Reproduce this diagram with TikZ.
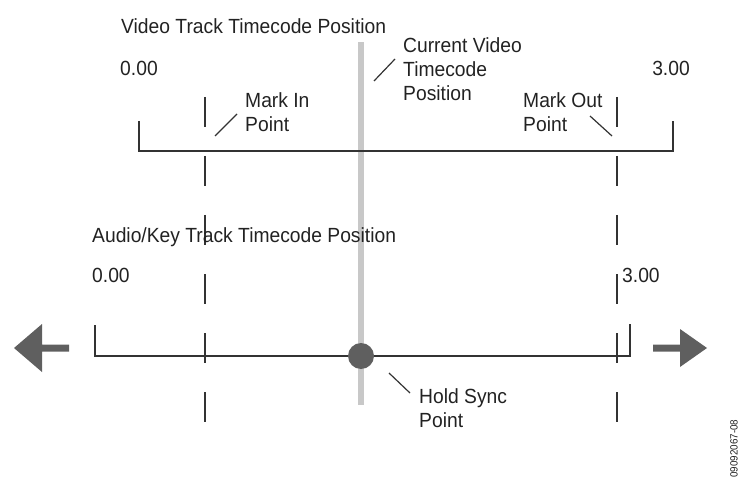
\documentclass[tikz,border=0pt]{standalone}
\usepackage{fontspec}
\setmainfont[FakeStretch=0.94]{Liberation Sans}
\usetikzlibrary{calc}
\definecolor{lineC}{HTML}{333333}
\definecolor{txtC}{HTML}{222222}
\definecolor{barC}{HTML}{C8C8C8}
\definecolor{arrC}{HTML}{5F5F5F}
\begin{document}
\begin{tikzpicture}[x=1pt,y=-1pt,
  lbl/.style={inner sep=0pt,font=\fontsize{20.5}{24}\selectfont,text=txtC,align=left},
  axis/.style={draw=lineC,line width=1.2pt},
  dashline/.style={draw=lineC,line width=1.2pt,dash pattern=on 30pt off 29pt},
  leader/.style={draw=lineC,line width=1.2pt},
  blockarrow/.style={fill=arrC,draw=none}]
\useasboundingbox (0,0) rectangle (739,481);
% gray current-video bar
\fill[barC] (358,42) rectangle (364,405);
% dashed mark lines
\coordinate (mi1) at (205,97); \coordinate (mi2) at (205,424);
\coordinate (mo1) at (617,97); \coordinate (mo2) at (617,424);
\draw[dashline] (mi1) -- (mi2);
\draw[dashline] (mo1) -- (mo2);
% top axis
\coordinate (vl) at (139,121); \coordinate (vr) at (673,121);
\draw[axis] (vl) |- (vr |- 0,151) -- (vr);
% bottom axis
\coordinate (al) at (95,325); \coordinate (ar) at (630,324);
\draw[axis] (al) |- (ar |- 0,356) -- (ar);
% hold sync dot
\node[circle,fill=arrC,minimum size=26pt,inner sep=0pt] (dot) at (361,356) {};
% texts
\node[lbl,anchor=base west] (vtitle) at (121,34) {Video Track Timecode Position};
\node[lbl,anchor=base] (v0) at (139,76) {0.00};
\node[lbl,anchor=base] (v3) at (671,76) {3.00};
\node[lbl,anchor=north west] (cur) at (403,37) {Current Video\\Timecode\\Position};
\node[lbl,anchor=north west] (min) at (245,92) {Mark In\\Point};
\node[lbl,anchor=north west] (mout) at (523,92) {Mark Out\\Point};
\node[lbl,anchor=base west] (atitle) at (92,243) {Audio/Key Track Timecode Position};
\node[lbl,anchor=base west] (a0) at (92,282) {0.00};
\node[lbl,anchor=base west] (a3) at (622,282) {3.00};
\node[lbl,anchor=north west] (hold) at (419,388) {Hold Sync\\Point};
% leaders
\coordinate (cl1) at (374,81); \coordinate (cl2) at (395,59);
\draw[leader] (cl1) -- (cl2);
\coordinate (ml1) at (215,136); \coordinate (ml2) at (237,114);
\draw[leader] (ml1) -- (ml2);
\coordinate (ol1) at (590,116); \coordinate (ol2) at (612,136);
\draw[leader] (ol1) -- (ol2);
\coordinate (hl1) at (389,373); \coordinate (hl2) at (410,393);
\draw[leader] (hl1) -- (hl2);
% block arrows
\fill[blockarrow] (14,348) -- (42,324) -- (42,344.5) -- (69,344.5) -- (69,351.5) -- (42,351.5) -- (42,372) -- cycle;
\fill[blockarrow] (707,348) -- (680,329) -- (680,344.5) -- (653,344.5) -- (653,351.5) -- (680,351.5) -- (680,367) -- cycle;
% figure id
\node[inner sep=0pt,rotate=90,anchor=south west,font=\fontsize{10.5}{11}\selectfont,text=txtC] (figid) at (738,478) {09092067-08};
\end{tikzpicture}
\end{document}
